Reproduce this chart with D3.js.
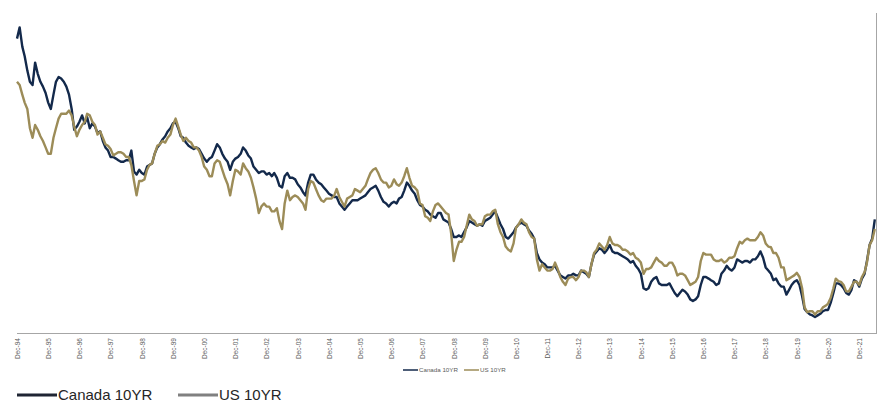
<!DOCTYPE html>
<html>
<head>
<meta charset="utf-8">
<script src="https://cdn.jsdelivr.net/npm/d3@7"></script>
<style>
  html, body { margin: 0; padding: 0; background: #fff; }
  svg { display: block; font-family: "Liberation Sans", Arial, sans-serif; }
</style>
</head>
<body>
<svg id="chart" width="879" height="402"></svg>
<script>
// ---- data (monthly, starting Dec-1994) ----
const startMonth = "1994-12";
const seriesNames = ["Canada 10YR", "US 10YR"];
const tickLabels = ["Dec-94","Dec-95","Dec-96","Dec-97","Dec-98","Dec-99","Dec-00","Dec-01","Dec-02","Dec-03",
  "Dec-04","Dec-05","Dec-06","Dec-07","Dec-08","Dec-09","Dec-10","Dec-11","Dec-12","Dec-13",
  "Dec-14","Dec-15","Dec-16","Dec-17","Dec-18","Dec-19","Dec-20","Dec-21"];

const canada10y = [
  9.2,
  9.55, 8.95, 8.65, 8.2, 7.85, 7.75, 8.45, 8.1, 7.85, 7.7, 7.5, 7.2,
  7.0, 7.45, 7.85, 8.0, 7.95, 7.85, 7.7, 7.45, 7.0, 6.35, 6.45, 6.6,
  6.8, 6.55, 6.75, 6.4, 6.55, 6.45, 6.25, 6.3, 6.0, 5.8, 5.7, 5.5,
  5.5, 5.45, 5.4, 5.35, 5.35, 5.4, 5.4, 5.7, 5.05, 4.95, 5.1, 5.0,
  4.95, 5.2, 5.25, 5.3, 5.6, 5.8, 5.9, 6.05, 6.15, 6.3, 6.4, 6.55,
  6.6, 6.4, 6.15, 6.1, 5.95, 5.85, 5.8, 5.75, 5.8, 5.75, 5.6, 5.45,
  5.35, 5.45, 5.5, 5.7, 5.9, 5.8, 5.6, 5.45, 5.35, 5.1, 5.35, 5.45,
  5.5, 5.6, 5.8, 5.7, 5.55, 5.45, 5.2, 5.1, 5.0, 5.05, 5.05, 4.95,
  5.0, 4.9, 5.0, 4.85, 4.6, 4.55, 4.9, 5.0, 4.85, 4.85, 4.8, 4.65,
  4.55, 4.4, 4.3, 4.7, 4.95, 4.95, 4.8, 4.7, 4.65, 4.55, 4.45, 4.35,
  4.3, 4.25, 4.25, 4.05, 3.95, 3.85, 3.95, 4.05, 4.15, 4.15, 4.15, 4.2,
  4.25, 4.3, 4.4, 4.5, 4.55, 4.6, 4.45, 4.25, 4.1, 4.05, 3.95, 4.05,
  4.1, 4.05, 4.2, 4.25, 4.45, 4.7, 4.6, 4.45, 4.35, 4.15, 4.0, 3.95,
  3.85, 3.8, 3.7, 3.65, 3.6, 3.75, 3.75, 3.55, 3.5, 3.45, 3.25, 3.0,
  3.0, 3.05, 3.0, 3.15, 3.3, 3.5, 3.45, 3.4, 3.35, 3.4, 3.35, 3.5,
  3.55, 3.6, 3.7, 3.8, 3.6, 3.4, 3.25, 3.0, 2.95, 3.05, 3.15, 3.3,
  3.4, 3.45, 3.4, 3.35, 3.2, 3.1, 2.95, 2.5, 2.3, 2.2, 2.15, 2.05,
  2.05, 2.05, 2.1, 1.95, 1.8, 1.75, 1.7, 1.8, 1.8, 1.85, 1.8, 1.8,
  1.95, 1.9, 1.85, 1.75, 2.15, 2.45, 2.55, 2.65, 2.6, 2.5, 2.6, 2.75,
  2.55, 2.5, 2.5, 2.45, 2.4, 2.35, 2.3, 2.2, 2.25, 2.1, 2.0, 1.85,
  1.4, 1.35, 1.4, 1.6, 1.7, 1.75, 1.55, 1.5, 1.5, 1.5, 1.55, 1.4,
  1.25, 1.15, 1.25, 1.35, 1.3, 1.2, 1.05, 1.0, 1.05, 1.15, 1.5, 1.75,
  1.75, 1.7, 1.65, 1.6, 1.5, 1.55, 1.85, 1.95, 2.1, 2.0, 1.95, 2.05,
  2.3, 2.25, 2.2, 2.25, 2.25, 2.2, 2.3, 2.3, 2.4, 2.55, 2.35, 2.05,
  1.95, 1.85, 1.65, 1.7, 1.55, 1.45, 1.45, 1.2, 1.35, 1.5, 1.6, 1.65,
  1.5, 1.15, 0.75, 0.65, 0.58, 0.55, 0.5, 0.55, 0.6, 0.68, 0.72, 0.72,
  0.95, 1.25, 1.55, 1.55, 1.5, 1.4, 1.25, 1.2, 1.35, 1.65, 1.6, 1.45,
  1.7, 1.85, 2.25, 2.75, 2.95, 3.55
];

const us10y = [
  7.85,
  7.75, 7.45, 7.2, 7.0, 6.4, 6.1, 6.5, 6.35, 6.15, 6.0, 5.8, 5.6,
  5.6, 6.1, 6.4, 6.7, 6.85, 6.85, 6.85, 6.95, 6.8, 6.45, 6.15, 6.35,
  6.5, 6.6, 6.85, 6.8, 6.6, 6.5, 6.2, 6.3, 6.1, 5.9, 5.85, 5.75,
  5.55, 5.6, 5.65, 5.65, 5.6, 5.5, 5.5, 5.25, 4.75, 4.3, 4.75, 4.75,
  4.8, 5.1, 5.25, 5.3, 5.6, 5.85, 5.9, 6.0, 5.95, 6.1, 6.2, 6.5,
  6.7, 6.45, 6.2, 6.0, 6.1, 6.0, 5.95, 5.8, 5.8, 5.7, 5.5, 5.2,
  5.1, 4.9, 4.9, 5.3, 5.4, 5.35, 5.1, 4.85, 4.65, 4.3, 4.75, 5.1,
  5.05, 4.95, 5.3, 5.15, 5.05, 4.85, 4.55, 4.2, 3.75, 3.95, 4.05, 3.95,
  3.95, 3.8, 3.8, 3.9, 3.5, 3.25, 4.05, 4.45, 4.15, 4.25, 4.3, 4.25,
  4.15, 4.05, 3.85, 4.5, 4.75, 4.7, 4.5, 4.3, 4.15, 4.1, 4.2, 4.2,
  4.2, 4.3, 4.5, 4.25, 4.1, 3.95, 4.2, 4.25, 4.3, 4.5, 4.45, 4.4,
  4.5, 4.6, 4.8, 5.0, 5.1, 5.15, 5.0, 4.8, 4.7, 4.7, 4.55, 4.6,
  4.8, 4.65, 4.6, 4.7, 4.9, 5.15, 4.85, 4.6, 4.55, 4.45, 4.05, 4.0,
  3.65, 3.6, 3.5, 3.8, 4.0, 4.05, 3.95, 3.85, 3.75, 3.7, 3.1, 2.25,
  2.6, 2.85, 2.85, 3.0, 3.35, 3.7, 3.55, 3.5, 3.35, 3.4, 3.4, 3.65,
  3.7, 3.7, 3.8, 3.85, 3.4, 3.15, 3.0, 2.7, 2.6, 2.55, 2.8, 3.3,
  3.4, 3.55, 3.45, 3.4, 3.15, 3.0, 2.95, 2.3, 1.95, 2.15, 2.05, 1.95,
  1.95, 2.0, 2.2, 2.0, 1.75, 1.6, 1.5, 1.7, 1.75, 1.75, 1.65, 1.75,
  1.95, 1.95, 1.9, 1.75, 2.15, 2.5, 2.6, 2.8, 2.7, 2.6, 2.75, 3.0,
  2.8, 2.75, 2.75, 2.7, 2.6, 2.6, 2.55, 2.45, 2.5, 2.35, 2.3, 2.2,
  1.85, 2.0, 2.0, 2.05, 2.2, 2.35, 2.25, 2.2, 2.1, 2.1, 2.2, 2.2,
  2.05, 1.8, 1.85, 1.85, 1.8, 1.65, 1.5, 1.55, 1.6, 1.75, 2.25, 2.5,
  2.45, 2.45, 2.45, 2.3, 2.25, 2.25, 2.3, 2.2, 2.25, 2.35, 2.35, 2.4,
  2.65, 2.85, 2.8, 2.9, 2.95, 2.9, 2.9, 2.9, 3.0, 3.15, 3.05, 2.8,
  2.7, 2.68, 2.5, 2.5, 2.35, 2.05, 2.05, 1.65, 1.7, 1.75, 1.8, 1.88,
  1.75, 1.4, 0.8, 0.65, 0.68, 0.68, 0.58, 0.68, 0.68, 0.8, 0.85, 0.92,
  1.1, 1.4, 1.7, 1.62, 1.6, 1.5, 1.3, 1.3, 1.45, 1.6, 1.6, 1.5,
  1.75, 1.9, 2.2, 2.75, 2.9, 3.25
];

const colors = { canada: "#13294b", us: "#9c8c58" };

// ---- build ----
const svg = d3.select("#chart");
const start = d3.timeParse("%Y-%m")(startMonth);
const dates = canada10y.map((_, i) => d3.timeMonth.offset(start, i));

const x = d3.scaleTime()
  .domain([start, new Date(2022, 5, 15)])
  .range([17, 876]);
const y = d3.scaleLinear().domain([0, 10]).range([333, 13]);

// right border
svg.append("line")
  .attr("x1", 876.5).attr("x2", 876.5)
  .attr("y1", 13).attr("y2", 333)
  .attr("stroke", "#a6a6a6").attr("stroke-width", 1);

// lines
const line = d3.line()
  .x((d, i) => x(dates[i]))
  .y(d => y(d));

svg.append("path").datum(canada10y)
  .attr("fill", "none").attr("stroke", colors.canada)
  .attr("stroke-width", 2.4).attr("stroke-linejoin", "round")
  .attr("d", line);
svg.append("path").datum(us10y)
  .attr("fill", "none").attr("stroke", colors.us)
  .attr("stroke-width", 2.4).attr("stroke-linejoin", "round")
  .attr("d", line);

// x axis
const parseTick = d3.timeParse("%b-%y");
const tickDates = tickLabels.map(parseTick);
const xAxis = d3.axisBottom(x)
  .tickValues(tickDates)
  .tickFormat(d3.timeFormat("%b-%y"))
  .tickSize(0)
  .tickSizeOuter(0);

const gx = svg.append("g").attr("transform", "translate(0,333.5)").call(xAxis);
gx.select(".domain").attr("stroke", "#a6a6a6").attr("d", "M17,0H877");
gx.selectAll("text")
  .attr("x", -4.5).attr("y", 0).attr("dy", "0.35em")
  .attr("transform", "rotate(-90)")
  .style("text-anchor", "end")
  .style("font-size", "6.5px")
  .style("font-family", "'Liberation Sans', Arial, sans-serif")
  .attr("fill", "#595959");

// inner legend
const inner = svg.append("g").attr("transform", "translate(403,370)");
const innerItems = [
  { name: seriesNames[0], color: colors.canada, x: 0 },
  { name: seriesNames[1], color: colors.us, x: 61 }
];
innerItems.forEach(it => {
  inner.append("line").attr("x1", it.x).attr("x2", it.x + 15)
    .attr("y1", 0).attr("y2", 0).attr("stroke", it.color).attr("stroke-width", 1.5);
  inner.append("text").attr("x", it.x + 16).attr("y", 0).attr("dy", "0.35em")
    .style("font-size", "6.2px").attr("fill", "#595959").text(it.name);
});

// outer legend (bottom-left)
const outer = svg.append("g");
const outerItems = [
  { name: seriesNames[0], color: "#1f2533", x: 17 },
  { name: seriesNames[1], color: "#808080", x: 178 }
];
outerItems.forEach(it => {
  outer.append("line").attr("x1", it.x).attr("x2", it.x + 40)
    .attr("y1", 395).attr("y2", 395).attr("stroke", it.color).attr("stroke-width", 3);
  outer.append("text").attr("x", it.x + 41).attr("y", 400)
    .style("font-size", "15px").attr("fill", "#262626").text(it.name);
});
</script>
</body>
</html>
